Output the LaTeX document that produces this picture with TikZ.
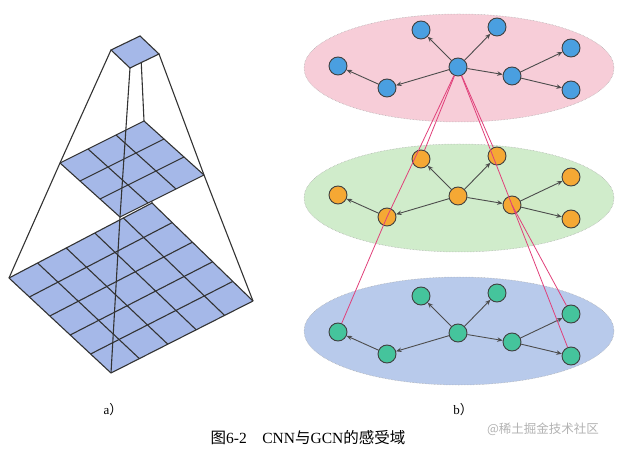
\documentclass[tikz,border=0pt]{standalone}
\usepackage{fontspec}
\setmainfont{Liberation Serif}
\newfontfamily\cjk{Noto Sans CJK SC}
\usetikzlibrary{calc,arrows.meta}

\definecolor{cellblue}{HTML}{A5B8E8}
\definecolor{pinkbg}{HTML}{F7CDD8}
\definecolor{greenbg}{HTML}{D0ECCB}
\definecolor{bluebg}{HTML}{B8CAEB}
\definecolor{bluenode}{HTML}{4A9FE0}
\definecolor{orangenode}{HTML}{F5A834}
\definecolor{greennode}{HTML}{45C49C}
\definecolor{fieldred}{HTML}{E0407A}

\tikzset{
  gridline/.style={draw=black!80, line width=1.1bp},
  layer/.style={draw=gray!70, densely dotted, line width=0.5bp},
  gnode/.style={circle, draw=black!75, line width=0.9bp, minimum size=18bp, inner sep=0pt},
  edge/.style={-{Stealth[length=5.5bp,width=4.5bp]}, draw=black!70, line width=0.9bp},
  field/.style={draw=fieldred, line width=0.8bp},
}

\begin{document}
\begin{tikzpicture}[x=1bp, y=-1bp]
  \useasboundingbox (0,0) rectangle (619,450);

  % a) pyramid: left, top, right, bottom corners of each plane
  \coordinate (sL) at (111,50);  \coordinate (sT) at (140,36);
  \coordinate (sR) at (159,54);  \coordinate (sB) at (130,68);
  \coordinate (mL) at (60,163);  \coordinate (mT) at (144,121);
  \coordinate (mR) at (204,175); \coordinate (mB) at (120,217);
  \coordinate (bL) at (9,278);   \coordinate (bT) at (152,203);
  \coordinate (bR) at (253,301); \coordinate (bB) at (111,373);

  \draw[gridline] (sT) -- (mT) -- (bT);

  % bottom 5x5 plane
  \fill[cellblue] (bL) -- (bT) -- (bR) -- (bB) -- cycle;
  \foreach \i in {0,...,5} {
    \draw[gridline] ($(bB)!\i/5!(bR)$) -- ($(bL)!\i/5!(bT)$);
    \draw[gridline] ($(bB)!\i/5!(bL)$) -- ($(bR)!\i/5!(bT)$);
  }
  % middle 3x3 plane
  \fill[cellblue] (mL) -- (mT) -- (mR) -- (mB) -- cycle;
  \foreach \i in {0,...,3} {
    \draw[gridline] ($(mB)!\i/3!(mR)$) -- ($(mL)!\i/3!(mT)$);
    \draw[gridline] ($(mB)!\i/3!(mL)$) -- ($(mR)!\i/3!(mT)$);
  }
  % top cell
  \draw[gridline, fill=cellblue] (sL) -- (sT) -- (sR) -- (sB) -- cycle;

  \draw[gridline] (sL) -- (mL) -- (bL);
  \draw[gridline] (sR) -- (mR) -- (bR);
  \draw[gridline] (sB) -- (mB) -- (bB);

  % b) three graph layers
  \foreach \ly/\cy/\ey/\bg/\fg in {t/67/68/pinkbg/bluenode,
                                   m/196/198/greenbg/orangenode,
                                   b/333/331/bluebg/greennode} {
    \draw[layer, fill=\bg] (459,\ey) ellipse [x radius=155bp, y radius=54bp];
    \node[gnode, fill=\fg] (\ly-c)  at (458,\cy) {};
    \node[gnode, fill=\fg] (\ly-a1) at (421,\cy-37) {};
    \node[gnode, fill=\fg] (\ly-a2) at (497,\cy-40) {};
    \node[gnode, fill=\fg] (\ly-r)  at (512,\cy+9) {};
    \node[gnode, fill=\fg] (\ly-r1) at (571,\cy-19) {};
    \node[gnode, fill=\fg] (\ly-r2) at (571,\cy+23) {};
    \node[gnode, fill=\fg] (\ly-l)  at (387,\cy+21) {};
    \node[gnode, fill=\fg] (\ly-l1) at (338,\cy-1) {};
    \foreach \s/\d in {c/a1,c/a2,c/r,c/l,r/r1,r/r2,l/l1}
      \draw[edge] (\ly-\s) -- (\ly-\d);
  }

  % receptive field
  \draw[field] (t-c) -- (m-a1);
  \draw[field] (t-c) -- (m-a2);
  \draw[field] (t-c) -- (m-l.center) -- (b-l1);
  \draw[field] (t-c) -- (m-r.center) -- (b-r1);
  \draw[field] (m-r.center) -- (b-r2);

  \node[font=\fontsize{13bp}{15bp}\selectfont] (capa) at (113,410) {a{\cjk ）}};
  \node[font=\fontsize{13bp}{15bp}\selectfont] (capb) at (463,410) {b{\cjk ）}};
  \node[font=\fontsize{15.5bp}{18bp}\selectfont] (title) at (308,438)
    {{\cjk 图}6-2\quad CNN{\cjk 与}GCN{\cjk 的感受域}};
  \node[font=\cjk\fontsize{12.5bp}{15bp}\selectfont, text=black!30] (mark) at (543,429)
    {@稀土掘金技术社区};
\end{tikzpicture}
\end{document}
